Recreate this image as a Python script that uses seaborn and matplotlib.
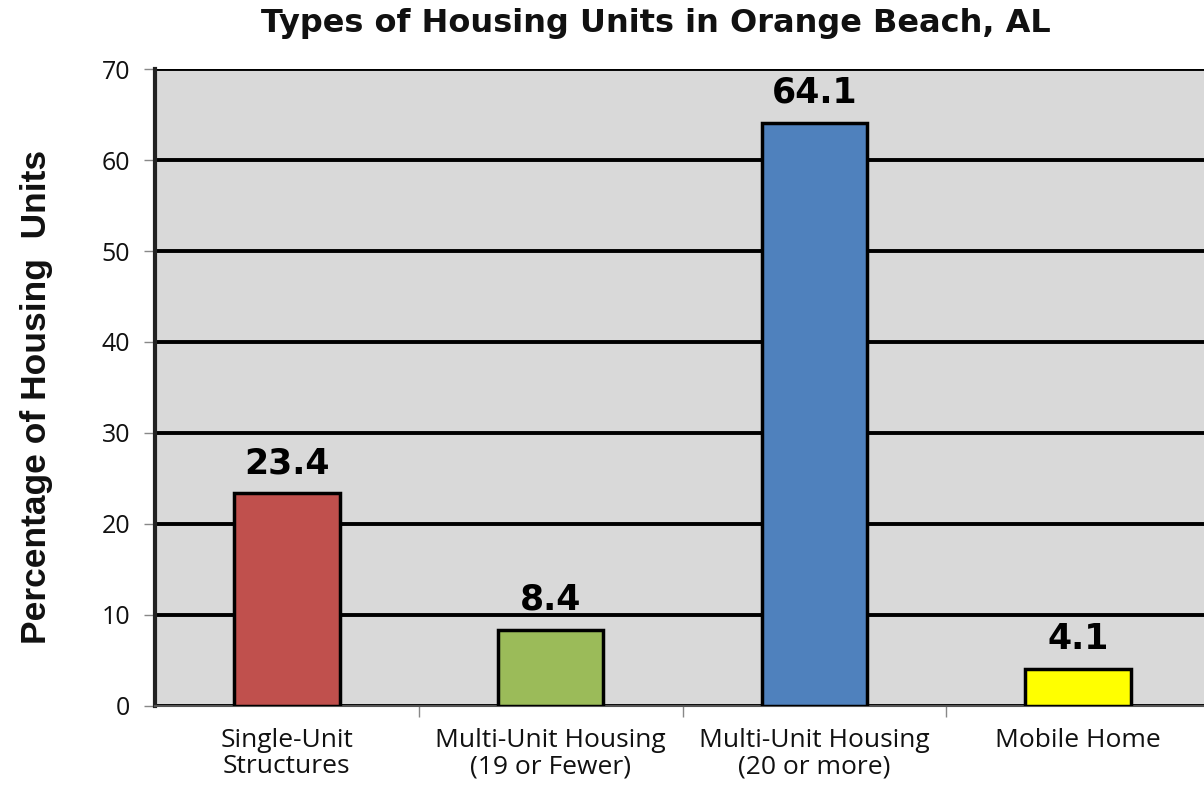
import matplotlib
matplotlib.use("Agg")
import matplotlib.pyplot as plt
import seaborn as sns
import pandas as pd

categories = ["Single-Unit\nStructures", "Multi-Unit Housing\n(19 or Fewer)",
              "Multi-Unit Housing\n(20 or more)", "Mobile Home"]
percentages = [23.4, 8.4, 64.1, 4.1]
bar_colors = ["#C0504D", "#9BBB59", "#4F81BD", "#FFFF00"]
y_ticks = [0, 10, 20, 30, 40, 50, 60, 70]

df = pd.DataFrame({"category": categories, "pct": percentages})

sns.set_style("white")
plt.rcParams["font.family"] = ["Open Sans", "DejaVu Sans"]
plt.rcParams["text.color"] = "#111111"
plt.rcParams["axes.labelcolor"] = "#111111"

fig = plt.figure(figsize=(12.04, 7.86), dpi=100)
ax = fig.add_axes([0.1287, 0.1018, 0.8713, 0.8104])
ax.set_facecolor("#D9D9D9")

sns.barplot(data=df, x="category", y="pct", hue="category", palette=bar_colors,
            saturation=1, edgecolor="black", linewidth=2.5, width=0.4,
            legend=False, ax=ax, zorder=3)

ax.set_ylim(0, 70)
ax.set_xlim(-0.5, 3.477)
ax.set_yticks(y_ticks)
ax.yaxis.grid(True, color="black", linewidth=2.8, zorder=1)
ax.set_axisbelow(True)

# value labels above bars
for i, v in enumerate(percentages):
    ax.text(i, v + 1.4, f"{v}", ha="center", va="bottom", fontsize=25,
            fontweight="bold", color="black", family=["DejaVu Sans"], zorder=4)

ax.tick_params(axis="y", labelsize=18, length=8, width=1, color="#888888",
               labelcolor="#111111", pad=10, left=True)
ax.set_xticks(range(len(categories)))
ax.set_xticklabels(categories, fontsize=19, linespacing=1.05)
ax.tick_params(axis="x", length=0, pad=16, labelcolor="#111111")
ax.set_xticks([0.5, 1.5, 2.5], minor=True)
ax.tick_params(axis="x", which="minor", length=8, width=1, color="#888888",
               bottom=True)

for s in ["top", "right"]:
    ax.spines[s].set_visible(False)
ax.spines["left"].set_color("#222222")
ax.spines["left"].set_linewidth(3)
ax.spines["bottom"].set_color("#555555")
ax.spines["bottom"].set_linewidth(1.5)

ax.set_xlabel("")
ax.set_ylabel("Percentage of Housing  Units", fontsize=25.5, fontweight="bold",
              family=["Liberation Sans", "DejaVu Sans"])
ax.yaxis.set_label_coords(-0.097, 0.485)

fig.suptitle("Types of Housing Units in Orange Beach, AL", x=0.545, y=0.99,
             fontsize=23, fontweight="bold", family=["DejaVu Sans"])

fig.savefig("out.png", dpi=100)
